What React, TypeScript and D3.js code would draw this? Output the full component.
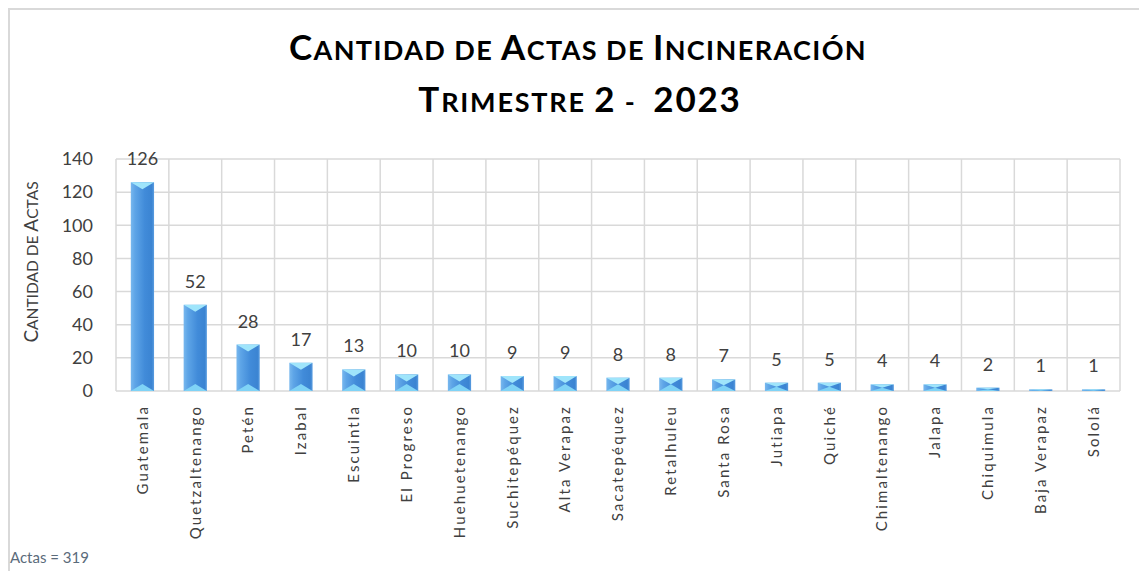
import React from 'react';
import * as d3 from 'd3';

const categories = ['Guatemala', 'Quetzaltenango', 'Petén', 'Izabal', 'Escuintla', 'El Progreso', 'Huehuetenango', 'Suchitepéquez', 'Alta Verapaz', 'Sacatepéquez', 'Retalhuleu', 'Santa Rosa', 'Jutiapa', 'Quiché', 'Chimaltenango', 'Jalapa', 'Chiquimula', 'Baja Verapaz', 'Sololá'];
const values = [126, 52, 28, 17, 13, 10, 10, 9, 9, 8, 8, 7, 5, 5, 4, 4, 2, 1, 1];
const yTicks = [0, 20, 40, 60, 80, 100, 120, 140];

const W = 1139;
const H = 571;
const plot = { left: 116, right: 1120, top: 159, bottom: 391 };
const FONT = 'Lato, "Noto Sans", sans-serif';

// small caps by hand: uppercase letters big, the rest smaller
const SmallCaps = ({ text, big, small }: { text: string; big: number; small: number }) => {
  const parts: { t: string; big: boolean }[] = [];
  for (const ch of text) {
    const isBig = ch === ch.toUpperCase() && ch !== ch.toLowerCase() || /[0-9]/.test(ch);
    const last = parts[parts.length - 1];
    if (last && last.big === isBig) last.t += ch;
    else parts.push({ t: ch, big: isBig });
  }
  return (
    <>
      {parts.map((p, i) => (
        <tspan key={i} fontSize={p.big ? big : small}>{p.big ? p.t : p.t.toUpperCase()}</tspan>
      ))}
    </>
  );
};

export default function App() {
  const x = d3.scaleBand<string>().domain(categories).range([plot.left, plot.right]);
  const y = d3.scaleLinear().domain([0, 140]).range([plot.bottom, plot.top]);
  const bw = x.bandwidth() * 0.44;

  return (
    <svg width={W} height={H} style={{ position: 'absolute', left: 0, top: 0, background: '#fff' }} fontFamily={FONT}>
      <defs>
        <linearGradient id="barGrad" x1="0" x2="1" y1="0" y2="0">
          <stop offset="0" stopColor="#78b8ee" />
          <stop offset="0.18" stopColor="#5ea5e7" />
          <stop offset="0.6" stopColor="#418bd9" />
          <stop offset="0.9" stopColor="#3b84d2" />
          <stop offset="1" stopColor="#5a9de0" />
        </linearGradient>
      </defs>

      {/* chart frame */}
      <rect x={9} y={9} width={W + 20} height={H + 20} fill="none" stroke="#d9d9d9" strokeWidth={2} />

      {/* title */}
      <text x={578} y={60} textAnchor="middle" fontWeight="bold" fill="#000" letterSpacing={1.4} style={{ whiteSpace: 'pre' }}>
        <SmallCaps text="Cantidad de Actas de Incineración" big={35} small={27} />
      </text>
      <text x={580} y={112} textAnchor="middle" fontWeight="bold" fill="#000" letterSpacing={1.8} style={{ whiteSpace: 'pre' }}>
        <SmallCaps text="Trimestre 2 -  2023" big={35} small={27} />
      </text>

      {/* grid */}
      <g stroke="#d9d9d9" strokeWidth={1.5}>
        {yTicks.map((t) => (
          <line key={t} x1={plot.left} x2={plot.right} y1={y(t)} y2={y(t)} />
        ))}
        {categories.map((c) => (
          <line key={c} x1={x(c)!} x2={x(c)!} y1={plot.top} y2={plot.bottom} />
        ))}
        <line x1={plot.right} x2={plot.right} y1={plot.top} y2={plot.bottom} />
      </g>

      {/* y ticks */}
      <g fontSize={18} fill="#404040" textAnchor="end">
        {yTicks.map((t) => (
          <text key={t} x={93} y={y(t)} dy="0.35em">{t}</text>
        ))}
      </g>
      <text transform={`translate(38,262) rotate(-90)`} textAnchor="middle" fill="#404040">
        <SmallCaps text="Cantidad de Actas" big={19} small={15.5} />
      </text>

      {/* bars */}
      {categories.map((c, i) => {
        const v = values[i];
        const cx = x(c)! + x.bandwidth() / 2;
        const x0 = cx - bw / 2;
        const x1 = cx + bw / 2;
        const top = y(v);
        const bot = y(0);
        const h = bot - top;
        const d = Math.min(7, h / 2);
        return (
          <g key={c}>
            <rect x={x0} y={top} width={bw} height={h} fill="url(#barGrad)" />
            <path d={`M${x0},${top}L${x1},${top}L${cx},${top + d}Z`} fill="#9fe5fb" />
            <path d={`M${x0},${bot}L${x1},${bot}L${cx},${bot - d}Z`} fill="#7fd3f6" />
            <text x={cx} y={top - 17} textAnchor="middle" fontSize={18} fill="#404040">{v}</text>
          </g>
        );
      })}

      {/* category labels */}
      <g fontSize={15} fill="#404040" letterSpacing={2.1}>
        {categories.map((c) => (
          <text key={c} transform={`translate(${x(c)! + x.bandwidth() / 2},405) rotate(-90)`} textAnchor="end" dy="0.35em">{c}</text>
        ))}
      </g>

      <text x={10} y={563} fontSize={15} fill="#5b6b7b">Actas = 319</text>
    </svg>
  );
}
